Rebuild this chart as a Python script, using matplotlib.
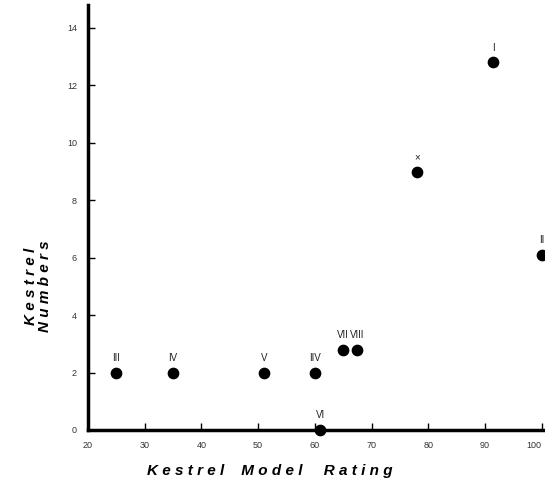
import matplotlib.pyplot as plt

# kestrel model rating vs kestrel numbers, one point per site
sites = ['III', 'IV', 'V', 'IIV', 'VI', 'VII', 'VIII', '\u00d7', 'I', 'II']
rating = [25, 35, 51, 60, 61, 65, 67.5, 78, 91.5, 100]
numbers = [2, 2, 2, 2, 0, 2.8, 2.8, 9, 12.8, 6.1]

xticks = [20, 30, 40, 50, 60, 70, 80, 90, 100]
yticks = [0, 2, 4, 6, 8, 10, 12, 14]

plt.rcParams['font.family'] = ['Liberation Sans', 'DejaVu Sans']

fig = plt.figure(figsize=(5.45, 4.93), dpi=100)
ax = fig.add_axes([0.1615, 0.1278, 0.8385, 0.862])

ax.scatter(rating, numbers, s=55, color='black', zorder=3, clip_on=False)
for name, x, y in zip(sites, rating, numbers):
    ax.annotate(name, (x, y), xytext=(0, 7), textcoords='offset points',
                ha='center', va='bottom', fontsize=7, color='#222222',
                annotation_clip=False)

ax.set_xlim(20, 100.6)
ax.set_ylim(0, 14.8)
ax.set_xticks(xticks)
ax.set_yticks(yticks)
ax.tick_params(direction='in', length=5, width=1, labelsize=6.5, pad=8,
               labelcolor='#333333')

for side in ['top', 'right']:
    ax.spines[side].set_visible(False)
for side in ['left', 'bottom']:
    ax.spines[side].set_linewidth(2.5)

fig.text(0.495, 0.045, 'K e s t r e l    M o d e l     R a t i n g',
         ha='center', va='center', fontsize=11, fontweight='bold', style='italic')
fig.text(0.07, 0.42, 'K e s t r e l\nN u m b e r s', ha='center', va='center',
         rotation=90, fontsize=11, fontweight='bold', style='italic',
         linespacing=1.0)

# last x label sits against the edge, keep it inside the figure
fig.canvas.draw()
ax.xaxis.get_major_ticks()[-1].label1.set_horizontalalignment('right')

fig.savefig('out.png', dpi=100)
